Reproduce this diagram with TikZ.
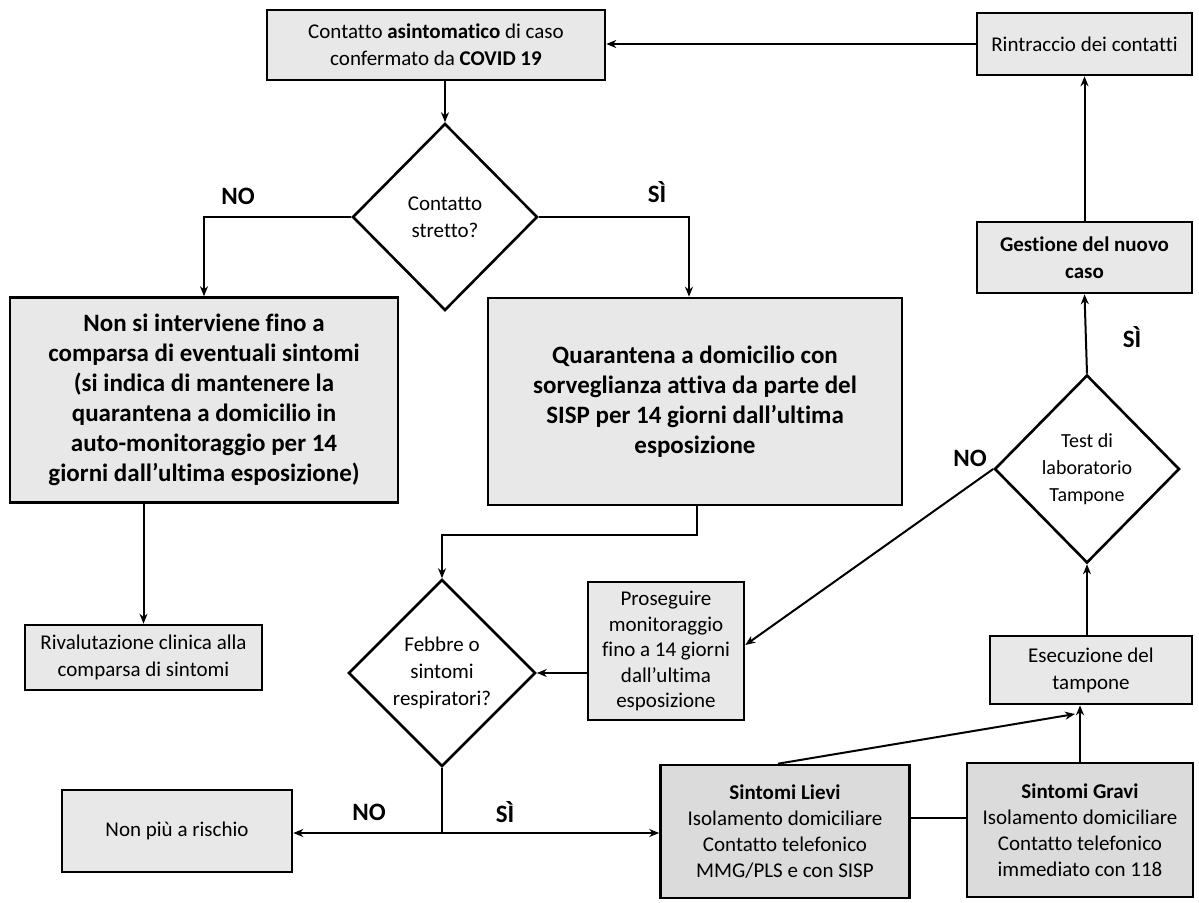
\documentclass[tikz,border=0pt]{standalone}
\usepackage{fontspec}
\setmainfont{Carlito}[Ligatures=NoCommon]
\usetikzlibrary{shapes.geometric,arrows.meta,calc}
\begin{document}
\begin{tikzpicture}[x=1pt,y=-1pt,
  box/.style={draw=black,line width=2.6pt,fill=black!9,align=center,inner sep=2pt,
    font=\fontsize{21}{27}\selectfont},
  darkbox/.style={box,fill=black!14},
  bigbox/.style={box,font=\fontsize{25}{30}\selectfont\bfseries},
  dia/.style={draw=black,line width=2.6pt,fill=white,diamond,inner sep=0pt,align=center,
    font=\fontsize{21}{27}\selectfont},
  arr/.style={line width=2pt,-{Stealth[length=10pt,width=8pt]}},
  ln/.style={line width=2pt},
  lab/.style={font=\fontsize{25}{28}\selectfont\bfseries}]
\useasboundingbox (0,0) rectangle (1199,902);
\fill[white] (0,0) rectangle (1199,902);

% nodes
\node[box,minimum width=338pt,minimum height=70pt] (top) at (436,45)
  {Contatto \textbf{asintomatico} di caso\\confermato da \textbf{COVID 19}};
\node[box,minimum width=215pt,minimum height=62pt] (rint) at (1084.5,44) {Rintraccio dei contatti};
\node[dia,minimum width=185pt,minimum height=187pt] (cs) at (445,217) {Contatto\\stretto?};
\node[bigbox,minimum width=388pt,minimum height=205pt] (nonsi) at (204,400)
  {Non si interviene fino a\\comparsa di eventuali sintomi\\(si indica di mantenere la\\quarantena a domicilio in\\auto-monitoraggio per 14\\giorni dall’ultima esposizione)};
\node[bigbox,minimum width=414pt,minimum height=207pt] (quar) at (695,401.5)
  {Quarantena a domicilio con\\sorveglianza attiva da parte del\\SISP per 14 giorni dall’ultima\\esposizione};
\node[box,minimum width=237pt,minimum height=65pt] (riv) at (143.5,657.5)
  {Rivalutazione clinica alla\\comparsa di sintomi};
\node[dia,minimum width=187pt,minimum height=187pt] (feb) at (442,673) {Febbre o\\sintomi\\respiratori?};
\node[box,minimum width=156pt,minimum height=138pt,font=\fontsize{21}{25.5}\selectfont] (pros) at (666,651)
  {Proseguire\\monitoraggio\\fino a 14 giorni\\dall’ultima\\esposizione};
\node[box,minimum width=230pt,minimum height=82pt] (nonpiu) at (177,831) {Non più a rischio};
\node[darkbox,minimum width=249pt,minimum height=133pt,font=\fontsize{21}{26}\selectfont] (lievi) at (785,831.5)
  {\textbf{Sintomi Lievi}\\Isolamento domiciliare\\Contatto telefonico\\MMG/PLS e con SISP};
\node[darkbox,minimum width=226pt,minimum height=134pt,font=\fontsize{21}{26}\selectfont] (gravi) at (1080,830)
  {\textbf{Sintomi Gravi}\\Isolamento domiciliare\\Contatto telefonico\\immediato con 118};
\node[box,minimum width=202pt,minimum height=68pt] (esec) at (1091,670) {Esecuzione del\\tampone};
\node[dia,minimum width=185pt,minimum height=188pt,font=\fontsize{20}{27}\selectfont] (test) at (1087,469) {Test di\\laboratorio\\Tampone};
\node[box,minimum width=215pt,minimum height=71pt,font=\fontsize{21}{27}\selectfont\bfseries] (gest) at (1084.5,257.5)
  {Gestione del nuovo\\caso};

% labels
\node[lab] (l1) at (238,196) {NO};
\node[lab] (l2) at (657,192) {SÌ};
\node[lab] (l3) at (1132,337) {SÌ};
\node[lab] (l4) at (970,458) {NO};
\node[lab] (l5) at (369,812) {NO};
\node[lab] (l6) at (505,812) {SÌ};

% coordinates
\coordinate (jn) at (442,833);
\coordinate (lt) at (1075,714);

% connectors
\draw[arr] (rint.west) -- (rint.west -| top.east);
\draw[arr] (cs.north |- top.south) -- (cs.north);
\draw[arr] (cs.west) -| (nonsi.north);
\draw[arr] (cs.east) -| ([xshift=-6pt]quar.north);
\draw[arr] (riv.north |- nonsi.south) -- (riv.north);
\draw[arr] ([xshift=2pt]quar.south) -- ++(0,29) -| (feb.north);
\draw[arr] (pros.west |- feb.east) -- (feb.east);
\draw[ln] (feb.south) -- (jn);
\draw[arr] (jn) -- (jn -| nonpiu.east);
\draw[arr] (jn) -- (jn -| lievi.west);
\draw[arr] (test.west) -- ([yshift=6pt]pros.east);
\draw[arr] (test.north) -- (gest.south);
\draw[arr] (gest.north) -- (gest.north |- rint.south);
\draw[arr] (test.south |- esec.north) -- (test.south);
\draw[arr] (gravi.north) -- (gravi.north |- esec.south);
\draw[arr] ([xshift=-7pt]lievi.north) -- (lt);
\draw[ln] ([yshift=14pt]lievi.east) -- ([yshift=14pt]lievi.east -| gravi.west);
\end{tikzpicture}
\end{document}
